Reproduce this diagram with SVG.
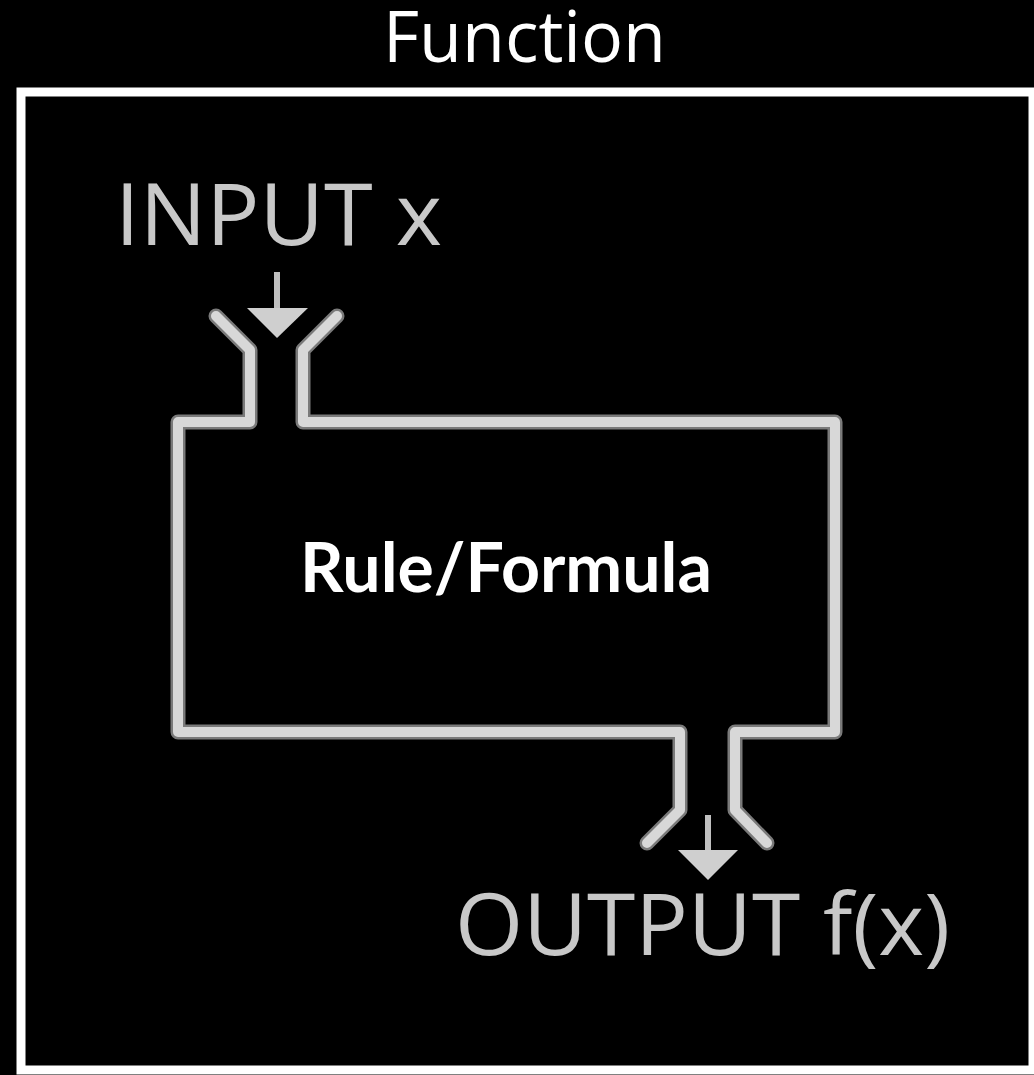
<svg xmlns="http://www.w3.org/2000/svg" width="1034" height="1075" viewBox="0 0 1034 1075">
<style>
.title{font-family:"Open Sans","Noto Sans",sans-serif;font-size:72px;fill:#ffffff}
.io{font-family:"Open Sans","Noto Sans",sans-serif;font-size:86px;fill:#c8c8c8}
.rule{font-family:Lato,"Open Sans",sans-serif;font-weight:bold;font-size:68px;fill:#ffffff}
.edge{fill:none;stroke:#7a7a7a;stroke-width:15;stroke-linejoin:round;stroke-linecap:round}
.core{fill:none;stroke:#d8d8d8;stroke-width:10;stroke-linejoin:round;stroke-linecap:round}
.shaft{stroke:#c0c0c0;stroke-width:6}
.head{fill:#cfcfcf}
</style>
<rect x="0" y="0" width="1034" height="1075" fill="#000"/>
<g id="title"><text class="title" x="383" y="62" textLength="283" lengthAdjust="spacingAndGlyphs">Function</text></g>
<g id="frame"><rect x="21" y="92" width="1012" height="978" fill="none" stroke="#ffffff" stroke-width="9"/></g>
<g id="machine">
<path class="edge" d="M216,316 L250,350 L250,422 L178,422 L178,732 L680,732 L680,810 L647,843"/>
<path class="edge" d="M337,316 L303,350 L303,422 L835,422 L835,732 L735,732 L735,810 L767,843"/>
<path class="core" d="M216,316 L250,350 L250,422 L178,422 L178,732 L680,732 L680,810 L647,843"/>
<path class="core" d="M337,316 L303,350 L303,422 L835,422 L835,732 L735,732 L735,810 L767,843"/>
<text class="rule" x="300" y="592" textLength="412" lengthAdjust="spacingAndGlyphs">Rule/Formula</text>
</g>
<g id="input"><text class="io" x="115" y="245" textLength="327" lengthAdjust="spacingAndGlyphs">INPUT x</text></g>
<g id="output"><text class="io" x="455" y="955" textLength="495" lengthAdjust="spacingAndGlyphs">OUTPUT f(x)</text></g>
<g id="connectors">
<line class="shaft" x1="277" y1="272" x2="277" y2="310"/>
<polygon class="head" points="247,308 308,308 277,338"/>
<line class="shaft" x1="708" y1="815" x2="708" y2="852"/>
<polygon class="head" points="678,850 738,850 708,880"/>
</g>
</svg>
